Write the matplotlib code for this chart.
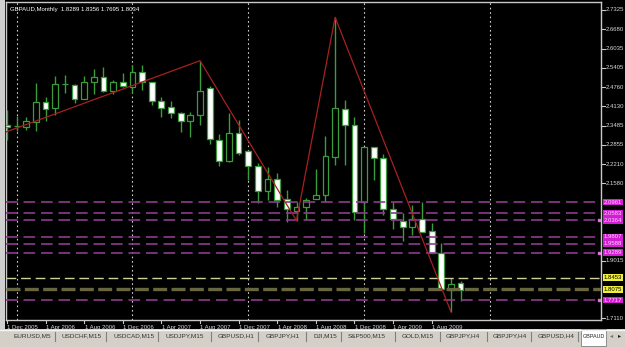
import matplotlib.pyplot as plt
from matplotlib.patches import Rectangle
import matplotlib.transforms as mtransforms

plt.rcParams['font.family'] = ['Liberation Sans', 'DejaVu Sans']

title = "GBPAUD,Monthly  1.8289 1.8356 1.7695 1.8034"

# monthly bars, Dec 2005 .. Nov 2009
opens = [2.3515, 2.3479, 2.3439, 2.3624, 2.4277, 2.4078, 2.4870, 2.4850, 2.4366, 2.4949,
         2.5115, 2.4651, 2.4929, 2.4784, 2.5281, 2.4929, 2.4310, 2.4101, 2.3902, 2.3647,
         2.3846, 2.4731, 2.3018, 2.2322, 2.3240, 2.2653, 2.2166, 2.1328, 2.1716, 2.1053,
         2.0675, 2.0788, 2.1053, 2.1186, 2.2445, 2.4035, 2.3515, 2.0974, 2.2776, 2.2431,
         2.0722, 2.0344, 2.0145, 2.0391, 2.0003, 1.9284, 1.8049, 1.8289]
highs = [2.4012, 2.3813, 2.3790, 2.4906, 2.4442, 2.5138, 2.5171, 2.4873, 2.5138, 2.5370,
         2.5446, 2.5006, 2.5237, 2.5503, 2.5503, 2.4939, 2.4452, 2.4310, 2.3945, 2.3955,
         2.5645, 2.4817, 2.3207, 2.3902, 2.3680, 2.2680, 2.2246, 2.2133, 2.1915, 2.1361,
         2.0974, 2.1086, 2.2047, 2.3150, 2.7083, 2.4343, 2.3770, 2.2796, 2.2790, 2.2554,
         2.0974, 2.0589, 2.0864, 2.0974, 2.0258, 1.9595, 1.8436, 1.8356]
lows = [2.3018, 2.3316, 2.3349, 2.3316, 2.3647, 2.3846, 2.4575, 2.4254, 2.4366, 2.4542,
        2.4618, 2.4542, 2.4784, 2.4575, 2.4674, 2.4177, 2.3770, 2.3737, 2.3293, 2.3127,
        2.3515, 2.2875, 2.2166, 2.2279, 2.2521, 2.1693, 2.0941, 2.1030, 2.0808, 2.0311,
        2.0344, 2.0367, 2.1053, 2.0974, 2.2190, 2.2190, 2.0367, 1.9937, 2.1693, 2.0533,
        2.0059, 1.9682, 1.9870, 1.9980, 1.9284, 1.8072, 1.7329, 1.7695]
closes = [2.3449, 2.3485, 2.3647, 2.4277, 2.4045, 2.4873, 2.4876, 2.4376, 2.4949, 2.5115,
          2.4651, 2.4929, 2.4817, 2.5281, 2.4929, 2.4320, 2.4088, 2.3922, 2.3657, 2.3846,
          2.4641, 2.3051, 2.2322, 2.3260, 2.2597, 2.2166, 2.1338, 2.1716, 2.1030, 2.0722,
          2.0788, 2.1030, 2.1186, 2.2488, 2.4068, 2.3515, 2.0642, 2.2796, 2.2411, 2.0722,
          2.0391, 2.0125, 2.0391, 1.9980, 1.9284, 1.8072, 1.8247, 1.8034]

date_labels = ["1 Dec 2005", "1 Apr 2006", "1 Aug 2006", "1 Dec 2006", "1 Apr 2007", "1 Aug 2007",
               "1 Dec 2007", "1 Apr 2008", "1 Aug 2008", "1 Dec 2008", "1 Apr 2009", "1 Aug 2009"]
date_pos = [0, 4, 8, 12, 16, 20, 24, 28, 32, 36, 40, 44]
grid_pos = [1, 13, 25, 37, 50]

price_ticks = [2.7325, 2.6680, 2.6035, 2.5405, 2.4760, 2.4130, 2.3485, 2.2855, 2.2210, 2.1580,
               1.9015, 1.7110]
magenta_levels = [2.0961, 2.0583, 2.0364, 1.9807, 1.9588, 1.9289, 1.7717]
yellow_levels = [1.8453, 1.8075]

zigzag_x = [-1, 20, 30, 34, 46]
zigzag_y = [2.3180, 2.5645, 2.0344, 2.7083, 1.7329]

tabs = ["EURUSD,M5", "USDCHF,M15", "USDCAD,M15", "USDJPY,M15", "GBPUSD,H1", "GBPJPY,H1",
        "DJI,M15", "S&P500,M15", "GOLD,M15", "GBPJPY,H4", "GBPJPY,H4", "GBPUSD,H4"]
tab_x = [13, 62, 114, 166, 218, 266, 313, 348, 402, 446, 493, 538]
sep_x = [55, 106, 158, 211, 258, 306, 341, 395, 440, 487, 531, 578]

W, H = 625, 347
fig = plt.figure(figsize=(W / 100, H / 100), dpi=100, facecolor='black')

# main chart area
ax = fig.add_axes([6 / W, 1 - 319.5 / H, 595 / W, 317.5 / H])
ax.set_facecolor('black')
ax.set_xlim(-0.10, 61.55)
ax.set_ylim(1.7071, 2.7590)
for s in ax.spines.values():
    s.set_color('#c8c8c8')
    s.set_linewidth(1)
ax.set_xticks([])
ax.set_yticks([])

green = '#3a9c3a'
for g in grid_pos:
    ax.axvline(g, color='#d0d0d0', lw=0.8, ls=(0, (1.5, 2.5)), zorder=1)

xs = list(range(len(opens)))
ax.vlines(xs, lows, highs, color=green, lw=1, zorder=3)
for x, o, c in zip(xs, opens, closes):
    bear = c < o
    h = abs(c - o)
    ax.bar(x, max(h, 0.0005), bottom=min(o, c), width=0.6,
           facecolor='white' if bear else 'black', edgecolor=green, lw=0.9, zorder=4)

for lv in magenta_levels:
    ax.axhline(lv, color='#8e3a8e', lw=1.2, ls=(0, (7, 3.5)), zorder=5)
ax.axhline(yellow_levels[0], color='#cfcf9a', lw=1.0, ls=(0, (7, 3.5)), zorder=5)
ax.axhline(yellow_levels[1], color='#66663f', lw=2.4, ls=(0, (4.2, 1.3)), zorder=5)

ax.plot(zigzag_x, zigzag_y, color='#a82020', lw=0.9, zorder=6)

ax.text(4 / 595, 0.985, title, transform=ax.transAxes, color='white',
        fontsize=4.3, va='top', ha='left')

# right price scale
tr = mtransforms.blended_transform_factory(ax.transAxes, ax.transData)
for p in price_ticks:
    ax.plot([1.0, 1.006], [p, p], transform=tr, color='#c8c8c8', lw=0.8, clip_on=False)
    ax.text(1.008, p, "%.4f" % p, transform=tr, color='#d8d8d8', fontsize=4.3,
            va='center', ha='left', clip_on=False)
for p in magenta_levels:
    ax.text(1.005, p, "%.4f" % p, transform=tr, color='#ffd0ff', fontsize=4.3,
            va='center', ha='left', clip_on=False,
            bbox=dict(boxstyle='square,pad=0.15', fc='#d21ed2', ec='none'))
for p in yellow_levels:
    ax.text(1.005, p, "%.4f" % p, transform=tr, color='black', fontsize=4.3,
            va='center', ha='left', clip_on=False,
            bbox=dict(boxstyle='square,pad=0.15', fc='#f0f03c', ec='none'))
for p in [2.0364, 1.9289, 1.7717]:
    ax.plot([0.997], [p], transform=tr, marker='s', ms=2, color='#e070e0', clip_on=False)

# date scale
trx = mtransforms.blended_transform_factory(ax.transData, ax.transAxes)
for d, lab in zip(date_pos, date_labels):
    ax.plot([d, d], [0, -0.012], transform=trx, color='#c8c8c8', lw=0.8, clip_on=False)
    ax.text(d + 0.05, -0.016, lab, transform=trx, color='#d8d8d8', fontsize=4.3,
            va='top', ha='left', clip_on=False)

# left strip of a neighbouring window
fig.patches.append(Rectangle((0, 1 - 329 / H), 5 / W, 329 / H, transform=fig.transFigure,
                             fc='#cfcfcf', ec='none'))

# symbol tabs at the bottom
tb = fig.add_axes([0, 0, 1, 18 / H])
tb.set_xlim(0, W)
tb.set_ylim(18, 0)
tb.axis('off')
tb.add_patch(Rectangle((0, 0), W, 18, fc='#d4d0c8', ec='none'))
tb.plot([0, W], [0.5, 0.5], color='#f4f4f4', lw=1)
for x, t in zip(tab_x, tabs):
    tb.text(x, 7, t, fontsize=4.6, color='#333333', va='center', ha='left')
for x in sep_x:
    tb.plot([x, x], [3, 12], color='#808080', lw=0.8)
tb.add_patch(Rectangle((581, 0), 25, 17, fc='white', ec='#808080', lw=0.6))
tb.text(583, 7, "GBPAUD", fontsize=3.9, color='#222222', va='center', ha='left')
tb.text(612, 7, "\u25c2", fontsize=4.5, color='#707070', va='center', ha='center',
        family='DejaVu Sans')
tb.text(620, 7, "\u25b8", fontsize=4.5, color='#202020', va='center', ha='center',
        family='DejaVu Sans')

fig.savefig('out.png', dpi=100, facecolor='black')
